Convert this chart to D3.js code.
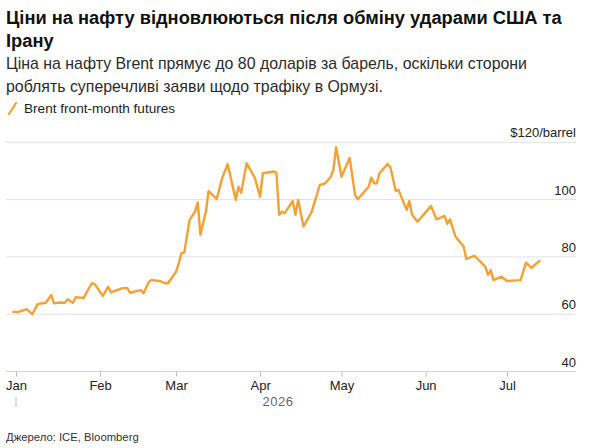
<!DOCTYPE html>
<html>
<head>
<meta charset="utf-8">
<script src="https://cdn.jsdelivr.net/npm/d3@7"></script>
<style>
  html, body { margin: 0; padding: 0; background: #fff; }
  svg { display: block; font-family: "Liberation Sans", Arial, Helvetica, sans-serif; }
</style>
</head>
<body>
<svg id="chart" width="600" height="448"></svg>
<script>
// ---- Data ----
const titleLines = ["Ціни на нафту відновлюються після обміну ударами США та", "Ірану"];
const subtitleLines = ["Ціна на нафту Brent прямує до 80 доларів за барель, оскільки сторони", "роблять суперечливі заяви щодо трафіку в Ормузі."];
const legendLabel = "Brent front-month futures";
const sourceText = "Джерело: ICE, Bloomberg";
const yearLabel = "2026";

const dates = [
  "2025-12-31","2026-01-02","2026-01-05","2026-01-07","2026-01-09","2026-01-12","2026-01-14","2026-01-15",
  "2026-01-17","2026-01-19","2026-01-20","2026-01-22","2026-01-23","2026-01-26","2026-01-27","2026-01-29",
  "2026-01-30","2026-02-02","2026-02-04","2026-02-05","2026-02-09","2026-02-11","2026-02-12","2026-02-16",
  "2026-02-17","2026-02-19","2026-02-20","2026-02-23","2026-02-25","2026-02-26","2026-03-01","2026-03-02",
  "2026-03-03","2026-03-04","2026-03-06","2026-03-08","2026-03-09","2026-03-10","2026-03-12","2026-03-13",
  "2026-03-16","2026-03-18","2026-03-20","2026-03-23","2026-03-24","2026-03-25","2026-03-27","2026-03-30",
  "2026-04-01","2026-04-02","2026-04-06","2026-04-07","2026-04-08","2026-04-09","2026-04-10","2026-04-13",
  "2026-04-14","2026-04-15","2026-04-17","2026-04-20","2026-04-23","2026-04-25","2026-04-27","2026-04-28",
  "2026-04-29","2026-05-01","2026-05-04","2026-05-06","2026-05-07","2026-05-11","2026-05-12","2026-05-13",
  "2026-05-14","2026-05-15","2026-05-18","2026-05-19","2026-05-21","2026-05-22","2026-05-25","2026-05-26",
  "2026-05-27","2026-05-29","2026-06-03","2026-06-05","2026-06-08","2026-06-09","2026-06-10","2026-06-12",
  "2026-06-15","2026-06-16","2026-06-19","2026-06-23","2026-06-24","2026-06-25","2026-06-26","2026-06-29",
  "2026-07-01","2026-07-06","2026-07-08","2026-07-10","2026-07-13"
];
const brent = [
  60.8, 60.8, 61.8, 60.0, 63.5, 64.0, 66.7, 63.8,
  64.1, 64.0, 65.2, 64.0, 65.9, 65.7, 67.6, 70.8,
  70.5, 66.4, 69.6, 67.6, 69.0, 69.2, 67.5, 68.4,
  67.3, 71.3, 71.9, 71.6, 70.8, 70.8, 74.8, 77.8,
  81.3, 81.5, 92.9, 95.8, 99.0, 87.7, 95.8, 103.0,
  100.2, 107.5, 112.4, 99.9, 104.5, 102.4, 112.7, 107.7,
  101.0, 109.2, 109.8, 109.4, 94.7, 95.8, 95.2, 99.5,
  94.7, 99.9, 90.6, 95.8, 105.1, 105.7, 108.0, 110.4,
  118.3, 108.0, 114.5, 101.6, 100.1, 104.5, 107.7, 105.7,
  105.7, 109.2, 112.4, 111.3, 103.0, 103.4, 96.4, 99.5,
  94.7, 92.3, 97.8, 93.1, 94.3, 91.5, 93.1, 87.1,
  83.6, 79.3, 80.4, 76.6, 73.7, 75.4, 71.9, 73.1,
  71.6, 71.9, 78.0, 76.2, 78.6
];
const yTicks = [40, 60, 80, 100, 120];
const monthTicks = ["2026-01-01","2026-02-01","2026-03-01","2026-04-01","2026-05-01","2026-06-01","2026-07-01"];

// ---- Layout ----
const parse = d3.timeParse("%Y-%m-%d");
const data = dates.map((d, i) => ({ date: parse(d), value: brent[i] }));
const svg = d3.select("#chart");
const plotLeft = 6, plotRight = 576;

const x = d3.scaleTime()
  .domain([parse("2026-01-01"), parse("2026-07-01")])
  .range([16, 507]);
const y = d3.scaleLinear().domain([40, 120]).range([371.5, 142.3]);

// Title
titleLines.forEach((t, i) => {
  svg.append("text").attr("x", 6).attr("y", 24 + i * 23)
    .attr("font-size", 18.3).attr("font-weight", "bold").attr("fill", "#111").text(t);
});
subtitleLines.forEach((t, i) => {
  svg.append("text").attr("x", 6).attr("y", 69 + i * 23)
    .attr("font-size", 15.9).attr("fill", "#2b2b2b").text(t);
});

// Legend
svg.append("line").attr("x1", 9).attr("y1", 114).attr("x2", 16).attr("y2", 103)
  .attr("stroke", "#f5a035").attr("stroke-width", 2.3).attr("stroke-linecap", "round");
svg.append("text").attr("x", 24).attr("y", 113).attr("font-size", 13.6).attr("fill", "#222").text(legendLabel);

// Gridlines
svg.append("g").selectAll("line").data(yTicks.filter(v => v !== 40)).join("line")
  .attr("x1", plotLeft).attr("x2", plotRight)
  .attr("y1", d => y(d)).attr("y2", d => y(d))
  .attr("stroke", "#e2e2e2").attr("stroke-width", 1);

// Y labels
svg.append("g").selectAll("text").data(yTicks).join("text")
  .attr("x", plotRight).attr("y", d => y(d) - 5)
  .attr("text-anchor", "end").attr("font-size", 13).attr("fill", "#222")
  .text(d => d === 120 ? "$120/barrel" : d);

// X axis
const xAxis = d3.axisBottom(x)
  .tickValues(monthTicks.map(parse))
  .tickFormat(d3.timeFormat("%b"))
  .tickSize(5).tickPadding(4);
const gx = svg.append("g").attr("transform", `translate(0,${y(40)})`).call(xAxis);
gx.select(".domain").remove();
gx.selectAll(".tick line").attr("stroke", "#bbb");
gx.selectAll(".tick text").attr("font-size", 13).attr("fill", "#222")
  .attr("font-family", "'Liberation Sans', Arial, sans-serif");
svg.append("line").attr("x1", plotLeft).attr("x2", plotRight)
  .attr("y1", y(40)).attr("y2", y(40)).attr("stroke", "#d4d4d4").attr("stroke-width", 1);

// Year marker
const jan = x(parse("2026-01-01"));
svg.append("line").attr("x1", jan).attr("x2", jan).attr("y1", 397).attr("y2", 407)
  .attr("stroke", "#bbb").attr("stroke-width", 1);
svg.append("text").attr("x", 278).attr("y", 406).attr("text-anchor", "middle")
  .attr("font-size", 13).attr("fill", "#666").attr("letter-spacing", 0.5).text(yearLabel);

// Line
const line = d3.line().x(d => x(d.date)).y(d => y(d.value)).curve(d3.curveLinear);
svg.append("path").datum(data).attr("d", line)
  .attr("fill", "none").attr("stroke", "#f5a035").attr("stroke-width", 2.4)
  .attr("stroke-linejoin", "round").attr("stroke-linecap", "round");

// Source
svg.append("text").attr("x", 6).attr("y", 441).attr("font-size", 11.3).attr("fill", "#333").text(sourceText);
</script>
</body>
</html>
